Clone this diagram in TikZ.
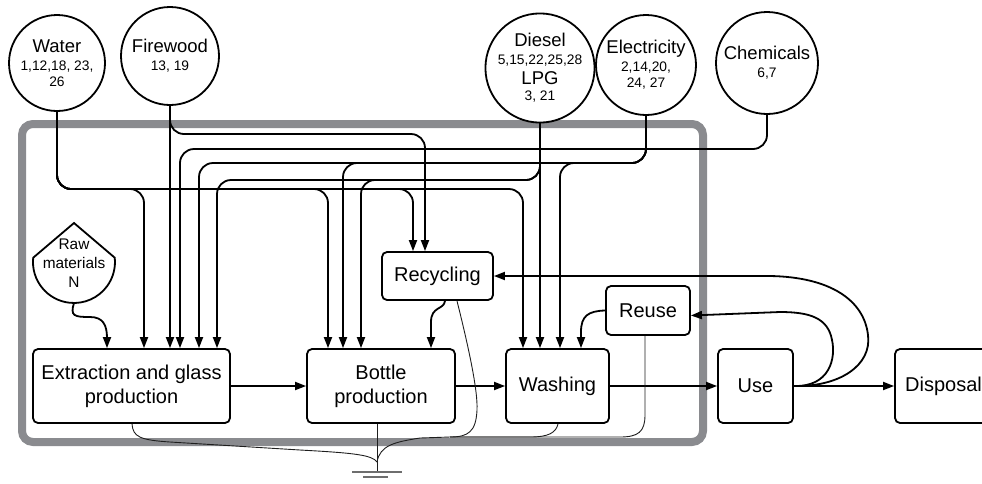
\documentclass[tikz,border=0pt]{standalone}
\usepackage{fontspec}
\setmainfont{Liberation Sans}
\usetikzlibrary{arrows.meta}
\definecolor{framegray}{RGB}{138,139,143}
\definecolor{wastecol}{RGB}{30,30,30}
\definecolor{groundcol}{RGB}{110,110,110}
\newcommand\srchead{\fontsize{18.5}{20}\selectfont}
\begin{document}
\begin{tikzpicture}[x=1pt,y=-1pt,
  flow/.style={draw=black,line width=1.8pt,rounded corners=14pt,-{Triangle[length=11pt,width=8pt]}},
  curveflow/.style={draw=black,line width=1.8pt,-{Triangle[length=11pt,width=8pt]}},
  box/.style={draw=black,line width=1.8pt,rounded corners=5pt,fill=white,inner sep=0pt,align=center,font=\fontsize{20}{24}\selectfont},
  src/.style={draw=black,line width=1.8pt,circle,fill=white,inner sep=0pt,align=center,font=\fontsize{13.8}{16}\selectfont},
  waste/.style={draw=wastecol,line width=0.9pt},
  groundline/.style={draw=groundcol,line width=1.1pt},
]
\useasboundingbox (0,0) rectangle (982,483);
\clip (0,0) rectangle (982,483);

% system boundary
\draw[framegray,line width=8pt,rounded corners=11pt] (22,124) rectangle (703,442);

% source circles
\node[src,minimum size=96pt] (water) at (57,63) {{\srchead Water}\\[2pt]1,12,18, 23,\\26};
\node[src,minimum size=98pt] (fire) at (170,56) {{\srchead Firewood}\\[2pt]13, 19};
\node[src,minimum size=96pt] (diesel) at (540,68) {{\srchead Diesel}\\[2pt]5,15,22,25,28\\[4pt]{\srchead LPG}\\3, 21};
\node[src,minimum size=100pt] (elec) at (646,65) {{\srchead Electricity}\\[2pt]2,14,20,\\24, 27};
\node[src,minimum size=102pt] (chem) at (767,63) {{\srchead Chemicals}\\[2pt]6,7};

% process boxes
\node[box,minimum width=197pt,minimum height=74pt] (ext) at (131.5,386) {Extraction and glass\\production};
\node[box,minimum width=148pt,minimum height=74pt] (bottle) at (381,386) {Bottle\\production};
\node[box,minimum width=103pt,minimum height=74pt] (wash) at (557.5,386) {Washing};
\node[box,minimum width=111pt,minimum height=48pt] (recyc) at (437.5,276) {Recycling};
\node[box,minimum width=84pt,minimum height=49pt] (reuse) at (648,310.5) {Reuse};
\node[box,minimum width=75pt,minimum height=74pt] (use) at (755.5,386) {Use};
\node[box,minimum width=97pt,minimum height=74pt] (disp) at (943.5,386) {Disposal};

% raw materials
\draw[line width=1.8pt,fill=white] (74,223) -- (33.2,257.7) arc[start angle=174,end angle=366,radius=41pt] -- cycle;
\node[font=\fontsize{15.4}{19}\selectfont,align=center,inner sep=0pt] (raw) at (74,263) {Raw\\materials\\N};
\coordinate (rawbot) at (74,303);

% water
\draw[flow] (water.south) -- (57,189) -- (144,189) -- (144,0 |- ext.north);
\draw[flow] (water.south) -- (57,189) -- (328,189) -- (328,0 |- bottle.north);
\draw[flow] (water.south) -- (57,189) -- (413,189) -- (413,0 |- recyc.north);
\draw[flow] (water.south) -- (57,189) -- (523,189) -- (523,0 |- wash.north);
% firewood
\draw[flow] (fire.south) -- (fire.south |- ext.north);
\draw[flow] (fire.south) -- (170,134) -- (425,134) -- (425,0 |- recyc.north);
% chemicals
\draw[flow] (chem.south) -- (767,149) -- (180,149) -- (180,0 |- ext.north);
% electricity
\draw[flow] (elec.south) -- (646,163) -- (199,163) -- (199,0 |- ext.north);
\draw[flow] (elec.south) -- (646,163) -- (343,163) -- (343,0 |- bottle.north);
\draw[flow] (elec.south) -- (646,163) -- (560,163) -- (560,0 |- wash.north);
% diesel / LPG
\draw[flow] (diesel.south) -- (diesel.south |- wash.north);
\draw[flow] (diesel.south) -- (540,180) -- (217,180) -- (217,0 |- ext.north);
\draw[flow] (diesel.south) -- (540,180) -- (361,180) -- (361,0 |- bottle.north);

% raw materials to extraction
\draw[curveflow] (rawbot) .. controls (70,316) and (74,317) .. (90,317) .. controls (103,317) and (107,325) .. (107,338) -- (107,0 |- ext.north);

% main chain
\draw[curveflow] (ext.east) -- (bottle.west);
\draw[curveflow] (bottle.east) -- (wash.west);
\draw[curveflow] (wash.east) -- (use.west);
\draw[curveflow] (use.east) -- (disp.west);

% recycling and reuse loops
\draw[curveflow] (445,0 |- recyc.south) .. controls (444,310) and (431,306) .. (431,322) -- (431,0 |- bottle.north);
\draw[curveflow] (reuse.west) .. controls (588,311) and (581,316) .. (581,332) -- (581,0 |- wash.north);
\draw[curveflow] (use.east) .. controls (830,387) and (836,358) .. (832,340) .. controls (828,318) and (810,312) .. (780,312) -- ([yshift=-5pt]reuse.east);
\draw[curveflow] (use.east) .. controls (840,387) and (872,365) .. (868,335) .. controls (864,300) and (830,277) .. (770,276) -- (recyc.east);

% waste to ground
\coordinate (gnd) at (377,472);
\draw[waste] (377,0 |- bottle.south) -- (gnd);
\draw[waste] (132,0 |- ext.south) .. controls (133,437) and (140,440) .. (170,442) -- (300,450) .. controls (355,453) and (372,455) .. (377,462);
\draw[waste] (457,0 |- recyc.south) .. controls (468,345) and (478,390) .. (477,410) .. controls (476,432) and (468,437) .. (450,437) -- (420,438) .. controls (395,442) and (380,445) .. (377,462);
\draw[waste] (558,0 |- wash.south) .. controls (556,433) and (548,437) .. (530,437) -- (450,437);
\draw[waste] (645,0 |- reuse.south) -- (645,415) .. controls (645,432) and (638,437) .. (620,437) -- (450,437);
\draw[groundline] (352,472) -- (402,472);
\draw[groundline] (363,477) -- (388,477);
\end{tikzpicture}
\end{document}
